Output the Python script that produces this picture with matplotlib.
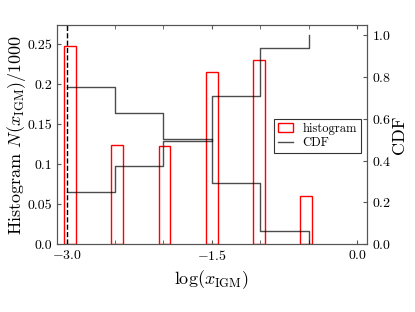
import numpy as np
import matplotlib
matplotlib.use("Agg")
import matplotlib.pyplot as plt
import matplotlib.ticker as tkr

# histogram of log(x_IGM), counts per 1000
bar_centers = [-2.962, -2.475, -1.989, -1.502, -1.016, -0.529]
counts = [248, 124, 123, 215, 230, 60]
bin_edges = [-3.0, -2.5, -2.0, -1.5, -1.0, -0.5]
left_ticklabels = ['0.0', '0.05', '0.1', '0.15', '0.2', '0.25']


def main():
    plt.rcParams['font.family'] = 'serif'
    plt.rcParams['font.serif'] = ['cmr10']
    plt.rcParams['mathtext.fontset'] = 'cm'
    plt.rcParams['axes.formatter.use_mathtext'] = True
    plt.rcParams['axes.unicode_minus'] = True

    h = np.array(counts) / 1000.0
    cdf = np.cumsum(h)
    ccdf = 1.0 - cdf

    fig = plt.figure(figsize=(4.15, 3.12), dpi=100)
    ax = fig.add_axes([0.137, 0.218, 0.747, 0.702])
    ax2 = ax.twinx()

    bars = ax.bar(bar_centers, h, 0.122, fill=False, edgecolor='r', lw=1,
                  label='histogram')
    ax.axvline(-3.0, color='k', ls='--', lw=1)

    line, = ax2.plot(bin_edges, cdf, drawstyle='steps-post', color='k',
                     alpha=0.7, lw=1, label='CDF')
    ax2.plot(bin_edges, ccdf, drawstyle='steps-post', color='k', alpha=0.7, lw=1)

    ax.set_xlim(-3.1, 0.1)
    ax.set_ylim(0, 0.274)
    ax2.set_ylim(0, 1.05)

    ax.xaxis.set_major_locator(tkr.FixedLocator([-3.0, -1.5, 0.0]))
    ax.xaxis.set_minor_locator(tkr.MultipleLocator(0.5))
    ax.xaxis.set_major_formatter(tkr.FormatStrFormatter('$%.1f$'))
    ax.set_yticks([0, 0.05, 0.1, 0.15, 0.2, 0.25])
    ax.set_yticklabels(left_ticklabels)
    ax2.set_yticks([0, 0.2, 0.4, 0.6, 0.8, 1.0])

    for a in (ax, ax2):
        for s in a.spines.values():
            s.set_color('#555555')
        a.tick_params(which='both', direction='in', length=3, color='#555555',
                      labelsize=10)
    ax.tick_params(axis='x', which='both', top=True)
    ax.tick_params(axis='y', right=False)

    ax.set_xlabel(r'$\log(x_{\rm IGM})$', fontsize=13)
    ax.set_ylabel(r'Histogram $N(x_{\rm IGM})/1000$', fontsize=13)
    ax.yaxis.set_label_coords(-0.094, 0.5)
    ax2.set_ylabel('CDF', fontsize=13)
    ax2.yaxis.set_label_coords(1.081, 0.5)

    leg = ax2.legend([bars, line], ['histogram', 'CDF'], loc='upper left',
                     bbox_to_anchor=(0.70, 0.571), borderaxespad=0,
                     fancybox=False, fontsize=9, handlelength=1.2,
                     borderpad=0.3, labelspacing=0.2)
    leg.get_frame().set_edgecolor('k')
    leg.get_frame().set_linewidth(0.8)

    plt.savefig("out.png", dpi=100)


if __name__ == "__main__":
    main()
